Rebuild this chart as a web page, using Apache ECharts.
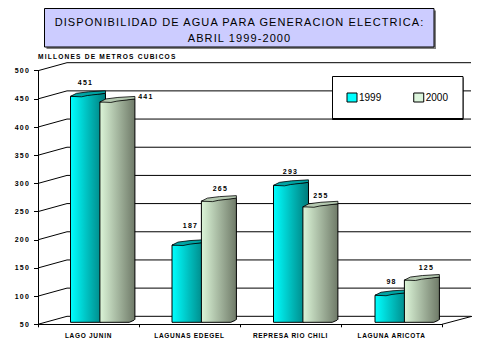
<!DOCTYPE html>
<html>
<head>
<meta charset="utf-8">
<style>
  html, body { margin: 0; padding: 0; background: #fff; }
  #chart { width: 479px; height: 357px; letter-spacing: 1.2px; }
  /* zrender has no letter spacing of its own, so it goes on the svg text */
  #chart text[style*="11px"] { letter-spacing: 1.1px; }
  #chart text[style*="10px"] { letter-spacing: 0; }
  #chart text[style*="6.5px"] { letter-spacing: 0.7px; }
</style>
<script src="https://cdn.jsdelivr.net/npm/echarts@6/dist/echarts.min.js"></script>
</head>
<body>
<div id="chart"></div>
<script>
var categories = ['LAGO JUNIN', 'LAGUNAS EDEGEL', 'REPRESA RIO CHILI', 'LAGUNA ARICOTA'];
var values1999 = [451, 187, 293, 98];
var values2000 = [441, 265, 255, 125];
var yTicks = [50, 100, 150, 200, 250, 300, 350, 400, 450, 500];

var FONT = '"Liberation Sans", Arial, sans-serif';
var DEPTH_X = 29, DEPTH_Y = 8;
var BAR_W = 29.4, BAR_SIDE = 5.6;

var chart = echarts.init(document.getElementById('chart'), null, { renderer: 'svg' });

// back wall: slanted stub from the axis, then the line along the wall
function renderWall(params, api) {
  var rect = params.coordSys;
  var y = api.coord([0, api.value(0)])[1];
  var lineStyle = { stroke: '#000', lineWidth: 1, fill: null };
  var children = [{
    type: 'polyline',
    shape: { points: [[rect.x, y], [rect.x + DEPTH_X, y - DEPTH_Y], [rect.x + rect.width + DEPTH_X, y - DEPTH_Y]] },
    style: lineStyle
  }];
  if (params.dataIndex === 0) {
    children.push({
      type: 'line',
      shape: { x1: rect.x + rect.width, y1: y, x2: rect.x + rect.width + DEPTH_X + 1, y2: y - DEPTH_Y },
      style: lineStyle
    });
  }
  return { type: 'group', children: children };
}

function cylinderRenderer(offset, colors, topColor, nudges) {
  return function (params, api) {
    var i = api.value(0);
    var pt = api.coord([i, api.value(1)]);
    var base = api.coord([i, yTicks[0]]);
    var x0 = pt[0] - 18 + offset + i * 0.5;
    var x1 = x0 + BAR_W + BAR_SIDE;
    var t = pt[1] - 2;
    var b = base[1] - 2;
    var n = nudges[params.dataIndex];

    return {
      type: 'group',
      children: [{
        type: 'polygon',
        shape: {
          points: [[x0, t], [x0, b], [x0 + BAR_W, b], [x1 - 1, b - 2], [x1, b - 3], [x1, t - 3]]
        },
        style: {
          fill: new echarts.graphic.LinearGradient(0, 0, 1, 0, [
            { offset: 0, color: colors[0] },
            { offset: 1, color: colors[1] }
          ]),
          stroke: '#000',
          lineWidth: 1
        }
      }, {
        type: 'polygon',
        shape: {
          points: [
            [x0, t], [x0 + 6, t - 3], [x0 + 18, t - 4.5], [x1, t - 5.5],
            [x1, t - 3], [x0 + 27, t - 2], [x0 + 17, t - 0.8], [x0 + 11, t + 0.5]
          ]
        },
        style: { fill: topColor, stroke: '#000', lineWidth: 0.8 }
      }, {
        type: 'text',
        x: x0 + n[0],
        y: t - n[1],
        style: {
          text: String(api.value(1)),
          font: 'bold 7px ' + FONT,
          fill: '#000',
          align: 'center',
          verticalAlign: 'middle'
        }
      }]
    };
  };
}

chart.setOption({
  animation: false,
  backgroundColor: '#fff',
  textStyle: { fontFamily: FONT },
  grid: { left: 38, right: 37, top: 70.7, bottom: 32.7 },
  title: {
    text: 'DISPONIBILIDAD DE AGUA PARA GENERACION ELECTRICA:\nABRIL 1999-2000',
    left: 239.5,
    top: 14,
    textAlign: 'center',
    padding: 0,
    textStyle: { fontFamily: FONT, fontSize: 11, fontWeight: 'normal', color: '#000', lineHeight: 16 }
  },
  graphic: [{
    type: 'rect',
    z: -2,
    shape: { x: 46.5, y: 10.5, width: 389.5, height: 38.5 },
    style: { fill: '#808080' }
  }, {
    type: 'rect',
    z: -1,
    shape: { x: 44.5, y: 8.5, width: 389.5, height: 38.5 },
    style: { fill: '#ccccff', stroke: '#000', lineWidth: 1 }
  }],
  legend: {
    left: 332.5,
    top: 76.5,
    orient: 'horizontal',
    padding: [16, 15, 16, 14],
    itemWidth: 10,
    itemHeight: 9,
    itemGap: 32,
    backgroundColor: '#fff',
    borderColor: '#000',
    borderWidth: 1,
    shadowColor: '#000',
    shadowOffsetY: 1,
    shadowBlur: 0,
    selectedMode: false,
    textStyle: { fontFamily: FONT, fontSize: 10, color: '#000', padding: [0, 0, 0, -3] },
    data: [
      { name: '1999', icon: 'rect', itemStyle: { color: '#00ffff', borderColor: '#000', borderWidth: 1 } },
      { name: '2000', icon: 'rect', itemStyle: { color: '#dcf5dc', borderColor: '#000', borderWidth: 1 } }
    ]
  },
  xAxis: {
    type: 'category',
    data: categories,
    axisLine: { lineStyle: { color: '#000', width: 1 } },
    axisTick: { show: true, length: 3, alignWithLabel: false, lineStyle: { color: '#000' } },
    axisLabel: { color: '#000', fontFamily: FONT, fontSize: 6.5, fontWeight: 'bold', margin: 8, interval: 0 }
  },
  yAxis: {
    type: 'value',
    min: 50,
    max: 500,
    interval: 50,
    name: 'MILLONES DE METROS CUBICOS',
    nameLocation: 'end',
    nameGap: 11,
    nameTextStyle: { color: '#000', fontFamily: FONT, fontSize: 6.6, fontWeight: 'bold', align: 'left' },
    splitLine: { show: false },
    axisLine: { show: true, lineStyle: { color: '#000', width: 1 } },
    axisTick: { show: true, length: 4, lineStyle: { color: '#000' } },
    axisLabel: { color: '#000', fontFamily: FONT, fontSize: 7, fontWeight: 'bold', margin: 8 }
  },
  series: [{
    type: 'custom',
    name: 'wall',
    silent: true,
    z: 1,
    coordinateSystem: 'cartesian2d',
    encode: { y: 0 },
    data: yTicks.map(function (v) { return [v]; }),
    renderItem: renderWall
  }, {
    type: 'custom',
    name: '1999',
    z: 2,
    itemStyle: { color: '#00ffff' },
    encode: { x: 0, y: 1 },
    data: values1999.map(function (v, i) { return [i, v]; }),
    renderItem: cylinderRenderer(0, ['#00ffff', '#007a7a'], '#00a3a3', [[15, 14], [18.5, 20], [17, 14], [16.5, 14]])
  }, {
    type: 'custom',
    name: '2000',
    z: 3,
    itemStyle: { color: '#dcf5dc' },
    encode: { x: 0, y: 1 },
    data: values2000.map(function (v, i) { return [i, v]; }),
    renderItem: cylinderRenderer(29.4, ['#dcf5d8', '#6f7a68'], '#b4c8b0', [[46, 5], [19, 13], [18, 11], [22, 13]])
  }]
});

// responsive when the window get resized
window.addEventListener('resize', function () {
  chart.resize();
});
</script>
</body>
</html>
